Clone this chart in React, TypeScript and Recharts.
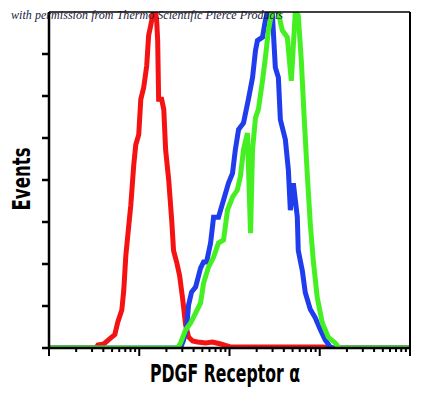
import React from "react"
import { LineChart, Line, XAxis, YAxis } from "recharts"

// fluorescence intensity (log scale) and event counts
const redX = [1, 3.31, 3.48, 4.05, 4.84, 5.36, 5.79, 6.41, 6.74, 7.1, 7.66, 8.06, 8.69, 9.15, 9.87, 10.4, 11.2, 12.1, 12.7, 13.4, 14.1, 14.8, 15.6, 16.0, 16.4, 17.7, 18.7, 19.6, 21.2, 22.9, 24.0, 26.0, 28.0, 30.3, 32.6, 35.2, 39.0, 44.3, 54.3, 64.9, 79.6, 102, 1093, 1300, 10000]
const redY = [0, 0, 1.8, 2.4, 6, 8, 15.5, 22.6, 34.5, 55, 73, 85, 109, 121, 127, 148, 155, 168, 186, 192, 198, 204, 195, 183, 148, 148, 142, 118, 100, 76, 58, 51, 43, 29, 14, 6.5, 4.2, 3.6, 3, 3.6, 2.4, 0.6, 0.6, 0, 0]

const blueX = [1, 28.7, 31.0, 33.5, 35.2, 38.0, 42.1, 47.8, 51.6, 55.7, 61.7, 66.6, 75.5, 85.9, 97.5, 108, 116, 126, 143, 162, 180, 194, 204, 232, 250, 270, 299, 322, 348, 366, 416, 449, 472, 510, 564, 578, 641, 691, 785, 892, 1013, 1151, 1306, 1410, 10000]
const blueY = [0, 0, 4.8, 11.9, 25.6, 33.3, 36.3, 47.6, 51.2, 51.2, 62.5, 77.9, 77.9, 88.1, 98.2, 104, 118, 130, 134, 148, 161, 177, 183, 185, 195, 202, 198, 167, 161, 136, 124, 106, 82, 98, 78, 58, 46, 33, 23, 18, 11, 4.8, 0.6, 0, 0]

const greenX = [1, 26.6, 28.7, 32.6, 37.1, 42.1, 47.8, 51.6, 58.6, 66.6, 75.5, 85.9, 95.0, 108, 122, 132, 143, 158, 171, 180, 194, 209, 232, 250, 270, 299, 339, 385, 437, 484, 536, 578, 625, 674, 728, 785, 848, 938, 1066, 1242, 1483, 1641, 10000]
const greenY = [0, 0, 3, 10.7, 14.9, 20.8, 26.8, 38.7, 48.2, 54.1, 62.5, 64.3, 82.1, 89.8, 94, 102, 118, 128, 68.4, 118, 137, 142, 159, 173, 189, 202, 202, 189, 185, 159, 200, 198, 171, 136, 103, 74, 52, 30, 15, 6.5, 3, 0, 0]

const decades = [1, 10, 100, 1000]
const xTicks = [...decades.flatMap((d) => [1, 2, 3, 4, 5, 6, 7, 8, 9].map((m) => m * d)), 10000]
const yTicks = [0, 25, 50, 75, 100, 125, 150, 175]

const toPoints = (xs: number[], ys: number[]) => xs.map((x, i) => ({ x, y: ys[i] }))

function LogTick({ x, y, payload }: any) {
  const lg = Math.log10(payload.value)
  const major = Math.abs(lg - Math.round(lg)) < 1e-6
  return <line x1={x} x2={x} y1={y} y2={y + (major ? 8 : 4)} stroke="#000" strokeWidth={2} />
}

const condensed = "'DejaVu Sans Condensed', 'DejaVu Sans', sans-serif"

export default function App() {
  return (
    <div style={{ position: "absolute", left: 0, top: 0, width: 433, height: 397, background: "#fff" }}>
      <LineChart width={433} height={397} margin={{ top: 0, right: 0, bottom: 0, left: 0 }}>
        <XAxis
          dataKey="x"
          type="number"
          scale="log"
          domain={[1, 10000]}
          ticks={xTicks}
          interval={0}
          height={49}
          tickSize={0}
          tickMargin={0}
          tickLine={false}
          tick={<LogTick />}
          axisLine={{ stroke: "#000", strokeWidth: 2.5 }}
          allowDataOverflow
        />
        <XAxis
          xAxisId="top"
          orientation="top"
          type="number"
          domain={[0, 1]}
          height={12}
          tick={false}
          tickLine={false}
          axisLine={{ stroke: "#000", strokeWidth: 1.5 }}
        />
        <YAxis
          type="number"
          domain={[0, 200]}
          ticks={yTicks}
          interval={0}
          width={49}
          tickSize={7}
          tickFormatter={() => ""}
          tickLine={{ stroke: "#000", strokeWidth: 2.5 }}
          axisLine={{ stroke: "#000", strokeWidth: 2.5 }}
          allowDataOverflow
        />
        <YAxis
          yAxisId="right"
          orientation="right"
          type="number"
          domain={[0, 1]}
          width={23}
          tick={false}
          tickLine={false}
          axisLine={{ stroke: "#000", strokeWidth: 2 }}
        />
        <Line data={toPoints(redX, redY)} dataKey="y" type="linear" stroke="#f51212" strokeWidth={5} dot={false} isAnimationActive={false} />
        <Line data={toPoints(blueX, blueY)} dataKey="y" type="linear" stroke="#1f3ded" strokeWidth={5} dot={false} isAnimationActive={false} />
        <Line data={toPoints(greenX, greenY)} dataKey="y" type="linear" stroke="#45f022" strokeWidth={5} dot={false} isAnimationActive={false} />
      </LineChart>
      <svg width={433} height={397} style={{ position: "absolute", left: 0, top: 0, pointerEvents: "none" }}>
        <text x={11} y={19} fontFamily="'Liberation Serif', serif" fontStyle="italic" fontSize={12} fill="#1a1a3a" textLength={272}>
          with permission from Thermo Scientific Pierce Products
        </text>
        <text
          x={0}
          y={0}
          transform="translate(30,179) rotate(-90)"
          textAnchor="middle"
          fontFamily={condensed}
          fontStretch="condensed"
          fontWeight="bold"
          fontSize={24}
          fill="#000"
          textLength={63}
          lengthAdjust="spacingAndGlyphs"
        >
          Events
        </text>
        <text
          x={150}
          y={382}
          fontFamily={condensed}
          fontStretch="condensed"
          fontWeight="bold"
          fontSize={24}
          fill="#000"
          textLength={150}
          lengthAdjust="spacingAndGlyphs"
        >
          PDGF Receptor α
        </text>
      </svg>
    </div>
  )
}
